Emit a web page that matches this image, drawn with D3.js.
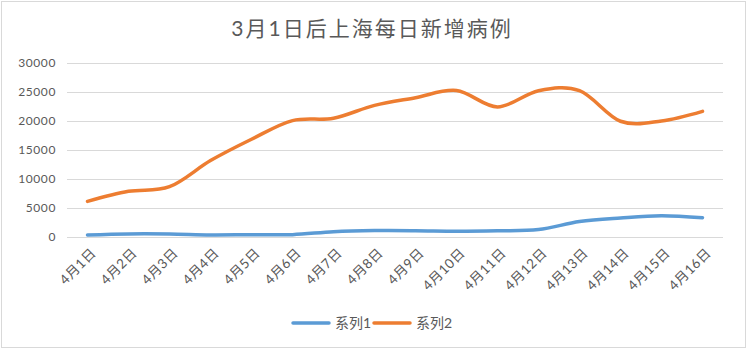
<!DOCTYPE html>
<html>
<head>
<meta charset="utf-8">
<script src="https://cdn.jsdelivr.net/npm/d3@7"></script>
<style>
  body { margin: 0; background: #fff; }
  text { font-family: Lato, "Noto Sans CJK SC", sans-serif; fill: #595959; }
</style>
</head>
<body>
<svg id="chart" width="747" height="349"></svg>
<script>
// 数据
const categories = ['4月1日', '4月2日', '4月3日', '4月4日', '4月5日', '4月6日', '4月7日', '4月8日',
    '4月9日', '4月10日', '4月11日', '4月12日', '4月13日', '4月14日', '4月15日', '4月16日'];
const series1 = [260, 438, 425, 268, 311, 322, 824, 1015, 1006, 914, 994, 1189, 2573, 3200, 3590, 3238];
const series2 = [6051, 7788, 8581, 13086, 16766, 19982, 20398, 22609, 23937, 25173, 22348, 25141, 25146, 19872, 19923, 21582];
const yTicks = [0, 5000, 10000, 15000, 20000, 25000, 30000];
const seriesNames = ['系列1', '系列2'];
const colors = ['#5b9bd5', '#ed7d31'];

const svg = d3.select('#chart');
const W = 747, H = 349;
const plot = { left: 67, right: 723, top: 62.5, bottom: 236.5 };

// 外框
svg.append('rect').attr('x', 1.5).attr('y', 1.5).attr('width', W - 3).attr('height', H - 3)
    .attr('fill', '#fff').attr('stroke', '#d9d9d9');

// 标题
svg.append('text').attr('x', 372).attr('y', 36).attr('text-anchor', 'middle')
    .style('font-size', '21px').style('letter-spacing', '2px')
    .text('3月1日后上海每日新增病例');

const x = d3.scaleBand().domain(categories).range([plot.left, plot.right]);
const y = d3.scaleLinear().domain([0, 30000]).range([plot.bottom, plot.top]);

// 网格线
svg.append('g').selectAll('line').data(yTicks).join('line')
    .attr('x1', plot.left).attr('x2', plot.right)
    .attr('y1', d => Math.round(y(d)) + 0.5).attr('y2', d => Math.round(y(d)) + 0.5)
    .attr('stroke', '#d9d9d9');

// y 轴
const yAxis = svg.append('g').attr('transform', `translate(${plot.left},0)`)
    .call(d3.axisLeft(y).tickValues(yTicks).tickSize(0).tickPadding(11).tickFormat(d3.format('d')));
yAxis.select('.domain').remove();
yAxis.selectAll('text').style('font-size', '12px').style('letter-spacing', '0.6px').style('font-family', null);

// x 轴标签
svg.append('g').selectAll('text').data(categories).join('text')
    .attr('transform', d => `translate(${x(d) + x.bandwidth() / 2 + 6},${plot.bottom + 14}) rotate(-45)`)
    .attr('text-anchor', 'end').attr('dy', '0.35em')
    .style('font-size', '13.5px').style('letter-spacing', '0.5px')
    .text(d => d);

// 折线
const line = d3.line()
    .x((d, i) => x(categories[i]) + x.bandwidth() / 2)
    .y(d => y(d))
    .curve(d3.curveCardinal.tension(0));

[series1, series2].forEach((s, k) => {
    svg.append('path').datum(s).attr('d', line)
        .attr('fill', 'none').attr('stroke', colors[k]).attr('stroke-width', 3.5)
        .attr('stroke-linecap', 'round').attr('stroke-linejoin', 'round');
});

// 图例
const legendX = [293, 374];
seriesNames.forEach((n, k) => {
    const g = svg.append('g').attr('transform', `translate(${legendX[k]},323)`);
    g.append('line').attr('x1', 0).attr('x2', 36).attr('y1', 0).attr('y2', 0)
        .attr('stroke', colors[k]).attr('stroke-width', 3.5).attr('stroke-linecap', 'round');
    g.append('text').attr('x', 42).attr('y', 5).style('font-size', '14px').text(n);
});
</script>
</body>
</html>
